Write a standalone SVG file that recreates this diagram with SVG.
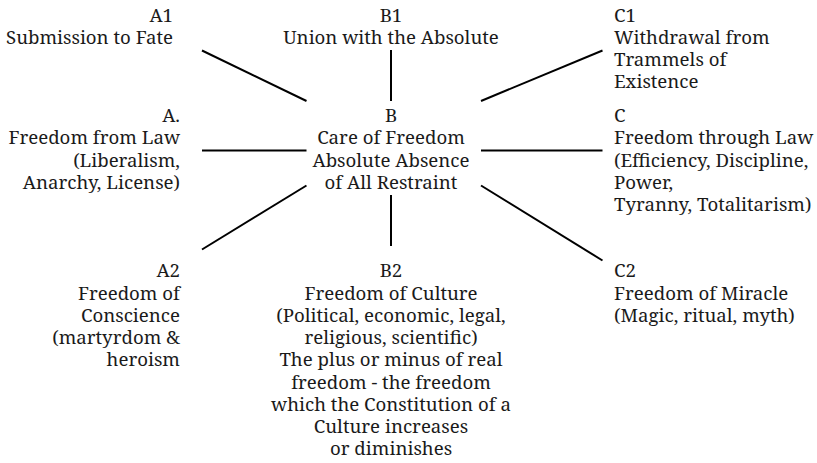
<svg xmlns="http://www.w3.org/2000/svg" width="817" height="463" viewBox="0 0 817 463">
<style>
text{font-family:"Noto Serif","DejaVu Serif","Liberation Serif",serif;font-size:18.67px;fill:#1a1a1a}
.r{text-anchor:end}.m{text-anchor:middle}.l{text-anchor:start}
.c line{stroke:#000;stroke-width:2}
</style>
<rect width="817" height="463" fill="#fff"/>
<g class="c" id="connectors">
<line x1="202" y1="50.5" x2="306.5" y2="101"/>
<line x1="391" y1="50" x2="391" y2="101"/>
<line x1="481" y1="101" x2="602.5" y2="50.5"/>
<line x1="202" y1="150.5" x2="306.5" y2="150.5"/>
<line x1="481" y1="150.5" x2="602.5" y2="150.5"/>
<line x1="202" y1="249.5" x2="306.5" y2="185.5"/>
<line x1="391" y1="195" x2="391" y2="246"/>
<line x1="481" y1="185.5" x2="602.5" y2="260.5"/>
</g>
<g id="A1"><text class="r" x="173" y="22">A1</text><text class="r" x="173" y="44">Submission to Fate</text></g>
<g id="B1"><text class="m" x="391" y="22">B1</text><text class="m" x="391" y="44">Union with the Absolute</text></g>
<g id="C1"><text class="l" x="614" y="22">C1</text><text class="l" x="614" y="44">Withdrawal from</text><text class="l" x="614" y="66">Trammels of</text><text class="l" x="614" y="88">Existence</text></g>
<g id="A"><text class="r" x="180" y="122">A.</text><text class="r" x="180" y="144">Freedom from Law</text><text class="r" x="180" y="166.5">(Liberalism,</text><text class="r" x="180" y="189">Anarchy, License)</text></g>
<g id="B"><text class="m" x="391" y="122">B</text><text class="m" x="391" y="144">Care of Freedom</text><text class="m" x="391" y="166.5">Absolute Absence</text><text class="m" x="391" y="189">of All Restraint</text></g>
<g id="C"><text class="l" x="614" y="122">C</text><text class="l" x="614" y="144">Freedom through Law</text><text class="l" x="614" y="166.5">(Efficiency, Discipline,</text><text class="l" x="614" y="189">Power,</text><text class="l" x="614" y="211">Tyranny, Totalitarism)</text></g>
<g id="A2"><text class="r" x="180" y="277">A2</text><text class="r" x="180" y="299.5">Freedom of</text><text class="r" x="180" y="322">Conscience</text><text class="r" x="180" y="344">(martyrdom &amp;</text><text class="r" x="180" y="366">heroism</text></g>
<g id="B2"><text class="m" x="391" y="277">B2</text><text class="m" x="391" y="299.5">Freedom of Culture</text><text class="m" x="391" y="322">(Political, economic, legal,</text><text class="m" x="391" y="344">religious, scientific)</text><text class="m" x="391" y="366">The plus or minus of real</text><text class="m" x="391" y="388.5">freedom - the freedom</text><text class="m" x="391" y="411">which the Constitution of a</text><text class="m" x="391" y="433">Culture increases</text><text class="m" x="391" y="455">or diminishes</text></g>
<g id="C2"><text class="l" x="614" y="277">C2</text><text class="l" x="614" y="299.5">Freedom of Miracle</text><text class="l" x="614" y="322">(Magic, ritual, myth)</text></g>
</svg>
